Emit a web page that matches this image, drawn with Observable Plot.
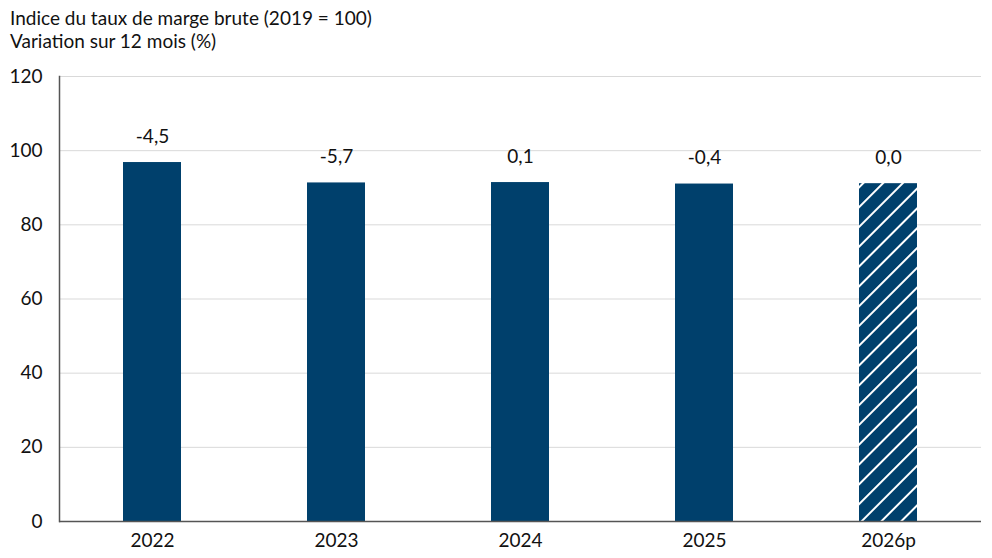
<!DOCTYPE html>
<html>
<head>
<meta charset="utf-8">
<script src="https://cdn.jsdelivr.net/npm/d3@7"></script>
<script src="https://cdn.jsdelivr.net/npm/@observablehq/plot@0.6"></script>
<style>
  body { margin: 0; background: #fff; font-family: Lato, "Open Sans", sans-serif; }
  #title { height: 55px; box-sizing: border-box; padding: 6px 0 0 10px; font-size: 19px; line-height: 23px; color: #111; }
  #chart svg { display: block; }
</style>
</head>
<body>
<div id="title">Indice du taux de marge brute (2019 = 100)<br>Variation sur 12 mois (%)</div>
<div id="chart"></div>
<script>
const years = ["2022", "2023", "2024", "2025", "2026p"];
const indexValues = [96.8, 91.3, 91.4, 91.0, 91.1];
const changeLabels = ["-4,5", "-5,7", "0,1", "-0,4", "0,0"];
const forecast = [false, false, false, false, true];
const yTicks = [0, 20, 40, 60, 80, 100, 120];

const data = years.map((y, i) => ({year: y, value: indexValues[i], label: changeLabels[i], forecast: forecast[i]}));

const plot = Plot.plot({
  width: 992,
  height: 503,
  marginTop: 21,
  marginBottom: 37,
  marginLeft: 59,
  marginRight: 11,
  style: {fontFamily: "Lato, 'Open Sans', sans-serif", fontSize: "19px", color: "#111", background: "#fff"},
  x: {domain: years, padding: 0, label: null, tickSize: 0, tickPadding: 12},
  y: {domain: [0, 120], ticks: yTicks, label: null, tickSize: 0, tickPadding: 17, grid: false},
  marks: [
    Plot.gridY(yTicks.filter(d => d > 0), {stroke: "#d9d9d9", strokeOpacity: 1, strokeWidth: 1}),
    Plot.barY(data.filter(d => !d.forecast), {x: "year", y: "value", fill: "#00406c", insetLeft: 63, insetRight: 63}),
    Plot.barY(data.filter(d => d.forecast), {x: "year", y: "value", fill: "url(#hatch)", insetLeft: 63, insetRight: 63}),
    Plot.text(data, {x: "year", y: "value", text: "label", lineAnchor: "bottom", dy: -20, fontSize: 19, fill: "#111"}),
    Plot.frame({anchor: "left", stroke: "#555", strokeWidth: 1.5}),
    Plot.ruleY([0], {stroke: "#555", strokeWidth: 1.5})
  ]
});

// hatch pattern definition
const svgNS = "http://www.w3.org/2000/svg";
const defs = document.createElementNS(svgNS, "defs");
defs.innerHTML = `<pattern id="hatch" patternUnits="userSpaceOnUse" width="14" height="14" patternTransform="rotate(45)">
  <rect width="14" height="14" fill="#00406c"></rect>
  <line x1="0" y1="0" x2="0" y2="14" stroke="#fff" stroke-width="4"></line>
</pattern>`;
plot.insertBefore(defs, plot.firstChild);
document.getElementById("chart").appendChild(plot);
</script>
</body>
</html>
